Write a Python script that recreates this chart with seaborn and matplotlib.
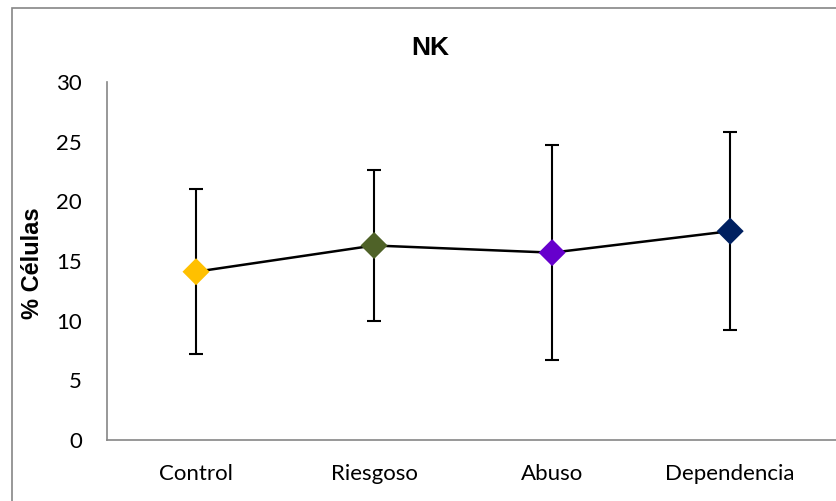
import pandas as pd
import matplotlib.pyplot as plt
import matplotlib.patches as mpatches
import seaborn as sns

# --- DATA ---
groups = ['Control', 'Riesgoso', 'Abuso', 'Dependencia']
mean_pct = [14.1, 16.3, 15.7, 17.5]
sd_pct = [6.9, 6.3, 9.0, 8.3]
group_colors = ['#FFC000', '#4F6228', '#6600CC', '#002060']

df = pd.DataFrame({'grupo': groups, 'pct': mean_pct, 'sd': sd_pct})
df['pos'] = range(len(df))

# --- PLOT ---
sns.set_theme(style="white")
plt.rcParams['font.family'] = ['Lato', 'DejaVu Sans']
plt.rcParams['text.color'] = 'black'
plt.rcParams['axes.labelcolor'] = 'black'

fig = plt.figure(figsize=(8.37, 5.01), dpi=100)
ax = fig.add_axes([107 / 837, 1 - 440 / 501, (837 - 107) / 837, (440 - 82) / 501])

# outer chart frame (partially cut off at right/bottom like the original)
fig.patches.append(mpatches.Rectangle((12 / 837, -0.05), 1.0, 1 - 8 / 501 + 0.05,
                                      transform=fig.transFigure, fill=False,
                                      edgecolor='#868686', linewidth=1.2))

ax.errorbar(df['pos'], df['pct'], yerr=df['sd'], fmt='none', ecolor='black',
            elinewidth=1.5, capsize=5, capthick=1.5, zorder=1)
sns.lineplot(data=df, x='pos', y='pct', color='black', linewidth=1.8, ax=ax, zorder=2)
sns.scatterplot(data=df, x='pos', y='pct', hue='grupo', palette=group_colors,
                marker='D', s=190, edgecolor='none', legend=False, ax=ax, zorder=3)

ax.set_xlim(-0.5, 3.6)
ax.set_ylim(0, 30)
ax.set_yticks(range(0, 31, 5))
ax.set_xticks(df['pos'])
ax.set_xticklabels(groups)
ax.tick_params(axis='both', length=0, labelsize=16, colors='black')
ax.tick_params(axis='x', pad=17)
ax.tick_params(axis='y', pad=18)

for side in ['top', 'right']:
    ax.spines[side].set_visible(False)
for side in ['left', 'bottom']:
    ax.spines[side].set_color('#868686')
    ax.spines[side].set_linewidth(1.2)

ax.set_xlabel('')
ax.set_ylabel('% Células', fontsize=17, fontweight='bold', family='Liberation Sans', color='black')
ax.yaxis.set_label_coords(-(107 - 44) / 730, (440 - 263) / 358)
fig.text(430 / 837, 1 - 48 / 501, 'NK', fontsize=19, fontweight='bold',
         family='Liberation Sans', ha='center', va='center', color='black')

plt.savefig('out.png', dpi=100)
plt.close()
